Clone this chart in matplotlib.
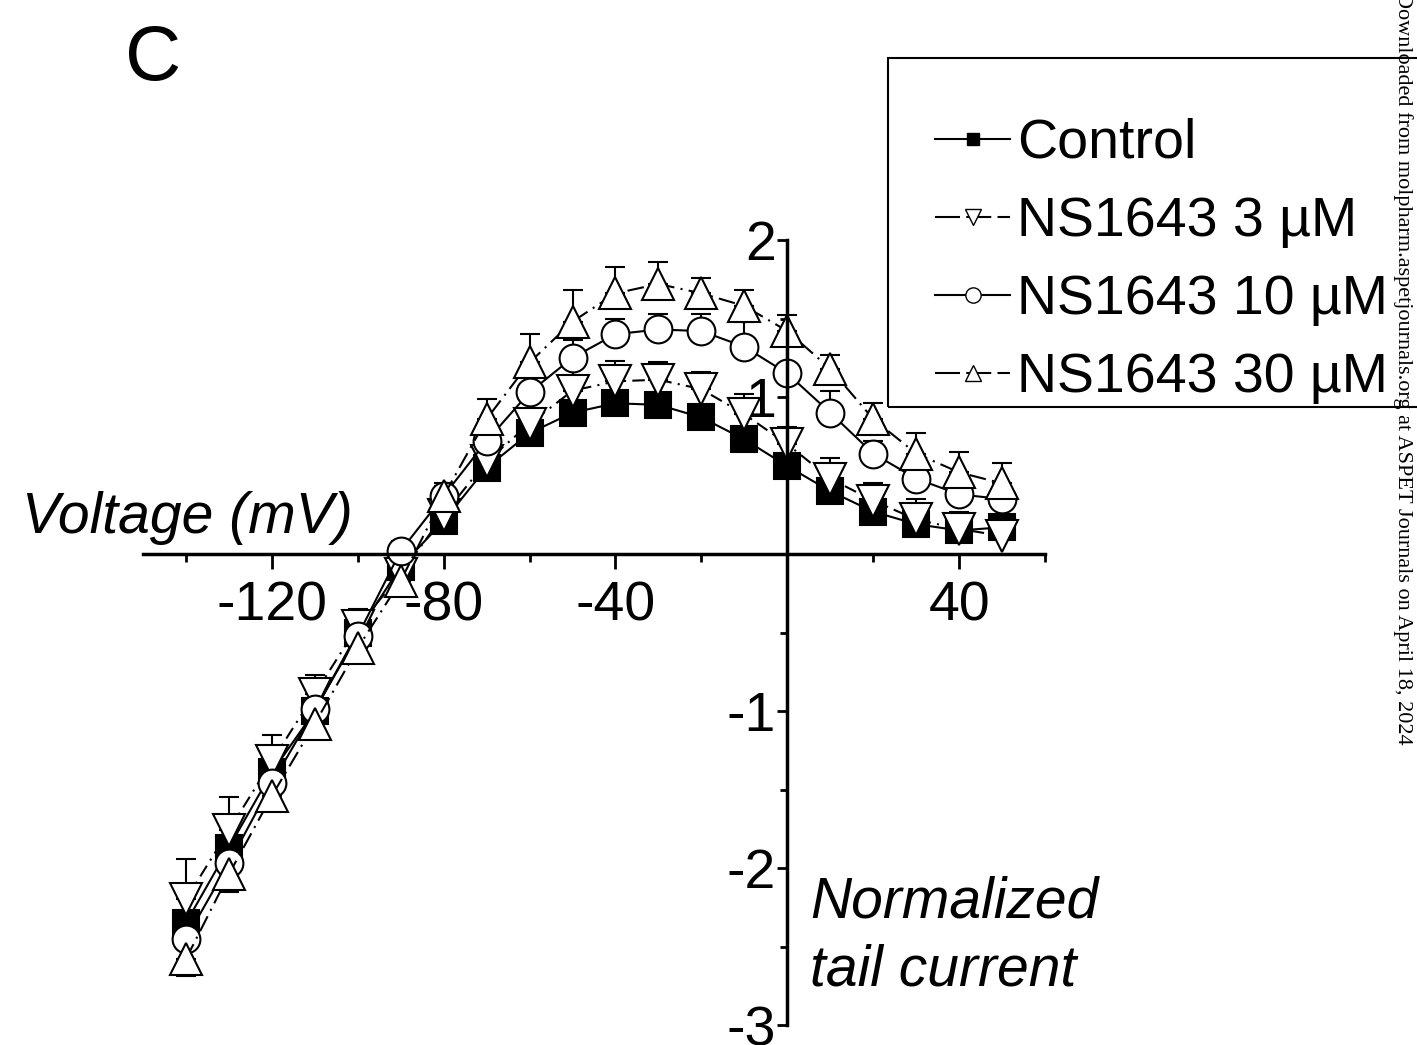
import matplotlib
matplotlib.use("Agg")
import matplotlib.pyplot as plt
from matplotlib.lines import Line2D
from matplotlib.patches import Rectangle
from matplotlib.ticker import FixedLocator
import numpy as np

# voltage steps (mV)
voltage = [-140, -130, -120, -110, -100, -90, -80, -70, -60, -50,
           -40, -30, -20, -10, 0, 10, 20, 30, 40, 50]

# normalized tail current
control = [-2.35, -1.87, -1.39, -1.00, -0.50, -0.08, 0.21, 0.55, 0.77, 0.90,
           0.96, 0.95, 0.87, 0.73, 0.56, 0.40, 0.27, 0.19, 0.15, 0.17]
control_err = [0.04, 0.04, 0.04, 0.04, 0.03, 0.03, 0.03, 0.03, 0.03, 0.03,
               0.03, 0.03, 0.03, 0.03, 0.03, 0.03, 0.03, 0.03, 0.03, 0.03]

ns3 = [-2.20, -1.76, -1.32, -0.89, -0.46, -0.13, 0.25, 0.59, 0.83, 1.04,
       1.10, 1.11, 1.05, 0.89, 0.70, 0.48, 0.34, 0.22, 0.16, 0.115]
ns3_err = [0.26, 0.21, 0.17, 0.12, 0.11, 0.08, 0.08, 0.10, 0.15, 0.20,
           0.13, 0.11, 0.11, 0.13, 0.11, 0.13, 0.11, 0.13, 0.11, 0.08]

ns10 = [-2.45, -1.97, -1.46, -0.99, -0.52, 0.02, 0.37, 0.72, 1.03, 1.25,
        1.40, 1.43, 1.42, 1.32, 1.15, 0.90, 0.64, 0.48, 0.38, 0.35]
ns10_err = [0.05, 0.05, 0.05, 0.05, 0.05, 0.06, 0.06, 0.08, 0.09, 0.11,
            0.10, 0.10, 0.11, 0.16, 0.18, 0.14, 0.08, 0.08, 0.08, 0.08]

ns30 = [-2.58, -2.04, -1.54, -1.08, -0.60, -0.17, 0.37, 0.86, 1.22, 1.48,
        1.66, 1.72, 1.66, 1.58, 1.42, 1.18, 0.86, 0.64, 0.52, 0.45]
ns30_err = [0.11, 0.11, 0.07, 0.06, 0.06, 0.06, 0.08, 0.13, 0.18, 0.20,
            0.17, 0.14, 0.10, 0.10, 0.10, 0.09, 0.10, 0.13, 0.13, 0.13]

labels = ["Control", "NS1643 3 \u00b5M", "NS1643 10 \u00b5M", "NS1643 30 \u00b5M"]

x_major = [-120, -80, -40, 40]
x_minor = [-140, -100, -60, -20, 20, 60]
y_major = [-3, -2, -1, 1, 2]
y_minor = [-2.5, -1.5, -0.5, 0.5, 1.5]

plt.rcParams["font.family"] = ["Liberation Sans", "DejaVu Sans"]
plt.rcParams["axes.unicode_minus"] = False

W, H = 1417, 1045
fig = plt.figure(figsize=(W / 100, H / 100), dpi=100)
ax = fig.add_axes([143 / W, 1 - 1025 / H, 902 / W, 785 / H])

# (values, errors, marker, face, line style, marker size, bars away from zero)
series = [
    (control, control_err, "s", "black", "-", 19, False),
    (ns3, ns3_err, "v", "white", (0, (6, 3, 1, 3)), 23, False),
    (ns10, ns10_err, "o", "white", "-", 20, False),
    (ns30, ns30_err, "^", "white", (0, (8, 3, 1, 3)), 23, True),
]

for vals, err, marker, face, ls, ms, away in series:
    v = np.array(vals)
    e = np.array(err)
    if away:
        lower = np.where(v < 0, e, 0)
        upper = np.where(v < 0, 0, e)
    else:
        lower = np.zeros_like(e)
        upper = e
    ax.errorbar(voltage, vals, yerr=[lower, upper], fmt="none", ecolor="black",
                elinewidth=1.5, capsize=7, capthick=1.5, zorder=1)

for vals, err, marker, face, ls, ms, away in series:
    ax.plot(voltage, vals, color="black", linestyle=ls, linewidth=1.5,
            marker=marker, markersize=ms, markerfacecolor=face,
            markeredgecolor="black", markeredgewidth=1.5, zorder=2)

ax.set_xlim(-150, 60)
ax.set_ylim(-3, 2)

for side in ["top", "right"]:
    ax.spines[side].set_visible(False)
ax.spines["left"].set_position(("data", 0))
ax.spines["bottom"].set_position(("data", 0))
ax.spines["left"].set_linewidth(2.5)
ax.spines["bottom"].set_linewidth(2.5)

ax.xaxis.set_major_locator(FixedLocator(x_major))
ax.xaxis.set_minor_locator(FixedLocator(x_minor))
ax.yaxis.set_major_locator(FixedLocator(y_major))
ax.yaxis.set_minor_locator(FixedLocator(y_minor))
ax.set_xticklabels([str(v) for v in x_major])
ax.set_yticklabels([str(v) for v in y_major])

ax.tick_params(axis="x", which="major", direction="out", length=11, width=2,
               labelsize=40, pad=8)
ax.tick_params(axis="x", which="minor", direction="out", length=6, width=2)
ax.tick_params(axis="y", which="major", direction="out", length=7, width=2,
               labelsize=40, pad=1)
ax.tick_params(axis="y", which="minor", direction="out", length=5, width=2)
ax.patch.set_visible(False)

fig.text(22 / W, 1 - 533 / H, "Voltage (mV)", fontsize=41, style="italic",
         ha="left", va="baseline")
fig.text(810 / W, 1 - 917 / H, "Normalized", fontsize=41, style="italic",
         ha="left", va="baseline")
fig.text(810 / W, 1 - 985 / H, "tail current", fontsize=41, style="italic",
         ha="left", va="baseline")

fig.text(125 / W, 1 - 80 / H, "C", fontsize=56, ha="left", va="baseline")

dash = (0, (12, 3))
handles = [
    Line2D([], [], color="black", linestyle="-", linewidth=1.5, marker="s",
           markersize=9, markerfacecolor="black", markeredgecolor="black"),
    Line2D([], [], color="black", linestyle=dash, linewidth=1.5, marker="v",
           markersize=11, markerfacecolor="white", markeredgecolor="black"),
    Line2D([], [], color="black", linestyle="-", linewidth=1.5, marker="o",
           markersize=11, markerfacecolor="white", markeredgecolor="black"),
    Line2D([], [], color="black", linestyle=dash, linewidth=1.5, marker="^",
           markersize=11, markerfacecolor="white", markeredgecolor="black"),
]
leg = fig.legend(handles, labels, loc="upper left",
                 bbox_to_anchor=(935 / W, 1 - 118 / H), fontsize=40,
                 frameon=False, handlelength=1.35, handletextpad=0.12,
                 labelspacing=0.47, borderpad=0, borderaxespad=0)

frame = Rectangle((888 / W, 1 - 407 / H), 560 / W, 349 / H,
                  transform=fig.transFigure, fill=False, edgecolor="black",
                  linewidth=1.5)
fig.add_artist(frame)

fig.text(1403 / W, 1 - 745 / H,
         "Downloaded from molpharm.aspetjournals.org at ASPET Journals on April 18, 2024",
         rotation=270, fontsize=16, family="Liberation Serif",
         ha="center", va="bottom")

fig.savefig("out.png", dpi=100)
